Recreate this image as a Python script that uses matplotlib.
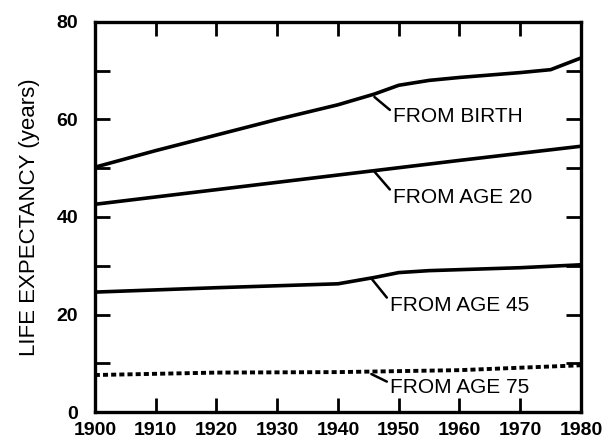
import matplotlib.pyplot as plt
from matplotlib.ticker import MultipleLocator

years_birth = [1900, 1910, 1920, 1930, 1940, 1946, 1950, 1955, 1960, 1970, 1975, 1980]
from_birth = [50.2, 53.6, 56.8, 60.0, 63.0, 65.2, 67.0, 68.0, 68.6, 69.6, 70.2, 72.6]

years_20 = [1900, 1920, 1940, 1960, 1980]
from_age_20 = [42.6, 45.6, 48.6, 51.6, 54.5]

years_45 = [1900, 1920, 1940, 1946, 1950, 1955, 1960, 1970, 1980]
from_age_45 = [24.6, 25.5, 26.3, 27.6, 28.6, 29.0, 29.2, 29.6, 30.2]

years_75 = [1900, 1920, 1940, 1960, 1970, 1980]
from_age_75 = [7.6, 8.1, 8.2, 8.6, 9.1, 9.6]

labels = ['FROM BIRTH', 'FROM AGE 20', 'FROM AGE 45', 'FROM AGE 75']
label_anchor = [(1946, 64.6), (1946, 49.3), (1945.5, 27.4), (1945.5, 7.8)]
label_text = [(1949, 60.5), (1949, 44.0), (1948.5, 21.8), (1948.5, 5.0)]

label_font = ['Liberation Sans', 'DejaVu Sans']

fig = plt.figure(figsize=(6.04, 4.46), dpi=100)
ax = fig.add_axes([0.157, 0.076, 0.805, 0.875])

ax.plot(years_birth, from_birth, color='black', lw=2.6, solid_capstyle='butt')
ax.plot(years_20, from_age_20, color='black', lw=2.6, solid_capstyle='butt')
ax.plot(years_45, from_age_45, color='black', lw=2.6, solid_capstyle='butt')
ax.plot(years_75, from_age_75, color='black', lw=2.8, linestyle=(0, (1.3, 0.8)),
        dash_capstyle='butt')

for name, (xa, ya), (xt, yt) in zip(labels, label_anchor, label_text):
    ax.annotate(name, xy=(xa, ya), xytext=(xt, yt), fontsize=15, family=label_font,
                ha='left', va='center',
                arrowprops=dict(arrowstyle='-', color='black', lw=1.8,
                                shrinkA=0, shrinkB=0, relpos=(0, 0.75)))

ax.set_xlim(1900, 1980)
ax.set_ylim(0, 80)
ax.xaxis.set_major_locator(MultipleLocator(10))
ax.yaxis.set_major_locator(MultipleLocator(20))
ax.yaxis.set_minor_locator(MultipleLocator(10))

ax.tick_params(axis='x', which='major', direction='in', length=10, width=2,
               top=True, pad=7)
ax.tick_params(axis='y', which='both', direction='in', length=11, width=2,
               right=True, pad=12)
ax.tick_params(axis='both', labelsize=14)
for t in ax.get_xticklabels() + ax.get_yticklabels():
    t.set_family(label_font)
    t.set_fontweight('bold')

for s in ax.spines.values():
    s.set_linewidth(2.4)

ax.set_ylabel('LIFE EXPECTANCY (years)', fontsize=16, family=label_font, labelpad=12)

fig.savefig('out.png', dpi=100)
